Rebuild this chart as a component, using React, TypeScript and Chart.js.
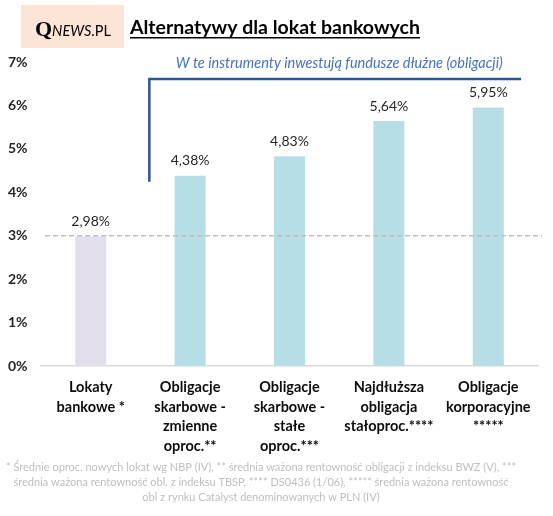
import React, { useEffect, useRef } from "react";
import { Chart, registerables } from "chart.js";

Chart.register(...registerables);

const categories: string[][] = [
  ["Lokaty", "bankowe *"],
  ["Obligacje", "skarbowe -", "zmienne", "oproc.**"],
  ["Obligacje", "skarbowe -", "stałe", "oproc.***"],
  ["Najdłuższa", "obligacja", "stałoproc.****"],
  ["Obligacje", "korporacyjne", "*****"],
];
const values: number[] = [2.98, 4.38, 4.83, 5.64, 5.95];
const valueLabels: string[] = ["2,98%", "4,38%", "4,83%", "5,64%", "5,95%"];
const barColors: string[] = ["#E2DEEB", "#B7DDE7", "#B7DDE7", "#B7DDE7", "#B7DDE7"];
const yTicks: number[] = [0, 1, 2, 3, 4, 5, 6, 7];
const referenceLevel = 3;
const title = "Alternatywy dla lokat bankowych";
const bracketText = "W te instrumenty inwestują fundusze dłużne (obligacji)";
// bracket in data units (category index, percent)
const bracketLeft = 0.59;
const bracketRight = 4.33;
const bracketTop = 6.61;
const bracketBottom = 4.24;
const footnote: string[] = [
  "* Średnie oproc. nowych lokat wg NBP (IV), ** średnia ważona rentowność obligacji z indeksu BWZ (V), ***",
  "średnia ważona rentowność obl. z indeksu TBSP, **** DS0436 (1/06), ***** średnia ważona rentowność",
  "obl z rynku Catalyst denominowanych w PLN (IV)",
];

const FONT = "Lato, 'Open Sans', sans-serif";

export default function App() {
  const ref = useRef<HTMLCanvasElement | null>(null);
  useEffect(() => {
    if (!ref.current) return;
    const drawRef = (chart: any) => {
      const ctx = chart.ctx;
      const y = chart.scales.y;
      ctx.save();
      ctx.strokeStyle = "#BFBFBF";
      ctx.lineWidth = 1.5;
      ctx.setLineDash([5, 3]);
      const yy = y.getPixelForValue(referenceLevel);
      ctx.beginPath();
      ctx.moveTo(chart.chartArea.left + 4, yy);
      ctx.lineTo(chart.chartArea.right + 4, yy);
      ctx.stroke();
      ctx.restore();
    };
    const overlay = {
      id: "overlay",
      afterDatasetsDraw(chart: any) {
        const ctx = chart.ctx;
        const x = chart.scales.x;
        const y = chart.scales.y;
        drawRef(chart);
        ctx.save();

        // value labels
        const meta = chart.getDatasetMeta(0);
        ctx.fillStyle = "#262626";
        ctx.font = `14px ${FONT}`;
        ctx.textAlign = "center";
        ctx.textBaseline = "middle";
        meta.data.forEach((bar: any, i: number) => {
          ctx.fillText(valueLabels[i], bar.x, bar.y - 15);
        });

        // bracket
        const bl = x.getPixelForValue(bracketLeft);
        const br = x.getPixelForValue(bracketRight);
        const bt = y.getPixelForValue(bracketTop);
        const bb = y.getPixelForValue(bracketBottom);
        ctx.strokeStyle = "#2F5597";
        ctx.lineWidth = 2.5;
        ctx.beginPath();
        ctx.moveTo(bl, bb);
        ctx.lineTo(bl, bt);
        ctx.lineTo(br, bt);
        ctx.stroke();

        // bracket text
        ctx.fillStyle = "#4472C4";
        ctx.font = `italic 14.5px ${FONT}`;
        ctx.textAlign = "center";
        ctx.fillText(bracketText, x.getPixelForValue(2.5), 63);

        // header logo box
        ctx.fillStyle = "#FCE4D6";
        ctx.fillRect(21, 5, 103, 43);
        ctx.fillStyle = "#000";
        ctx.textAlign = "left";
        ctx.textBaseline = "alphabetic";
        ctx.font = "bold 22px 'Liberation Serif', serif";
        ctx.fillText("Q", 35, 36);
        const qw = ctx.measureText("Q").width;
        ctx.font = `italic 14.5px ${FONT}`;
        ctx.fillText("NEWS", 35 + qw, 36);
        const nw = ctx.measureText("NEWS").width;
        ctx.font = `14.5px ${FONT}`;
        ctx.fillText(".PL", 35 + qw + nw, 36);

        // title
        ctx.font = `bold 19.5px ${FONT}`;
        ctx.fillStyle = "#000";
        ctx.fillText(title, 130, 34);
        const tw = ctx.measureText(title).width;
        ctx.fillRect(130, 37, tw, 1.5);

        // footnote
        ctx.fillStyle = "#BFBFBF";
        ctx.font = `11px ${FONT}`;
        ctx.textAlign = "center";
        ctx.textBaseline = "middle";
        footnote.forEach((line, i) => {
          ctx.fillText(line, 261, 467 + i * 15);
        });
        ctx.restore();
      },
    };

    const chart = new Chart(ref.current, {
      type: "bar",
      data: {
        labels: categories as any,
        datasets: [
          {
            data: values,
            backgroundColor: barColors,
            categoryPercentage: 1,
            barPercentage: 0.312,
          },
        ],
      },
      options: {
        animation: false,
        responsive: false,
        layout: { padding: { left: 8, right: 15, top: 62, bottom: 0 } },
        plugins: { legend: { display: false }, tooltip: { enabled: false } },
        scales: {
          x: {
            grid: { display: false, drawTicks: false },
            border: { display: true, color: "#D9D9D9", width: 1.5 },
            ticks: {
              color: "#0D0D0D",
              font: { family: FONT, size: 14.5, weight: "bold", lineHeight: 1.34 },
              padding: 12,
              maxRotation: 0,
              autoSkip: false,
            },
            afterFit: (s: any) => {
              s.height = 150;
            },
          },
          y: {
            min: 0,
            max: 7,
            afterBuildTicks: (s: any) => {
              s.ticks = yTicks.map((v) => ({ value: v }));
            },
            grid: { display: false, drawTicks: false },
            border: { display: false },
            ticks: {
              crossAlign: "far",
              color: "#262626",
              font: { family: FONT, size: 14, weight: "bold" },
              callback: (v: any) => `${v}%`,
            },
            afterFit: (s: any) => {
              s.width = 33;
            },
          },
        },
      },
      plugins: [overlay],
    });
    return () => chart.destroy();
  }, []);

  return (
    <div style={{ position: "absolute", left: 0, top: 0, width: 553, height: 516, background: "#fff" }}>
      <canvas ref={ref} width={553} height={516} style={{ display: "block" }} />
    </div>
  );
}
